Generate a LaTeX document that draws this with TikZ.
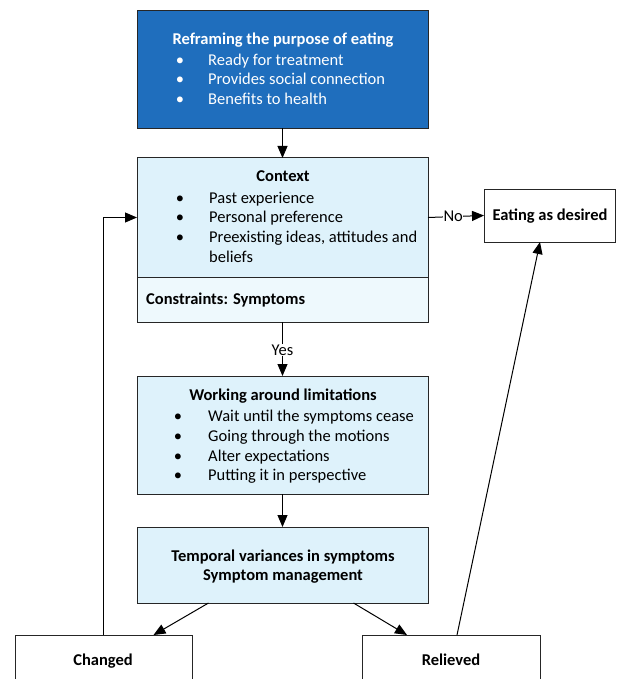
\documentclass[tikz,border=0pt]{standalone}
\usepackage{fontspec}
\setmainfont{Carlito}
\usetikzlibrary{arrows.meta}
\definecolor{darkblue}{RGB}{31,110,189}
\definecolor{lightblue}{RGB}{222,242,251}
\definecolor{paleblue}{RGB}{238,249,253}
\newcommand{\fsz}{\fontsize{16.5}{19}\selectfont}
\begin{document}
\begin{tikzpicture}[x=1pt,y=-1pt,
  box/.style={draw=black!85, line width=1pt, inner sep=0pt, outer sep=0pt},
  txt/.style={inner sep=0pt, anchor=base west, font=\fsz},
  ctxt/.style={inner sep=0pt, anchor=base, font=\fsz\bfseries},
  bul/.style={inner sep=0pt, anchor=base, font=\fsz},
  arr/.style={draw=black, line width=1pt, -{Triangle[length=12pt,width=10pt]}},
  lbl/.style={fill=white, inner sep=1pt, font=\fsz}]
\useasboundingbox (0,0) rectangle (621,679);
\clip (0,0) rectangle (621,679);
% boxes
\node[box, fill=darkblue, minimum width=291pt, minimum height=118pt] (reframe) at (282.5,69.5) {};
\node[box, fill=lightblue, minimum width=291pt, minimum height=119pt] (context) at (282.5,217.5) {};
\node[box, fill=paleblue, minimum width=291pt, minimum height=45pt] (constr) at (282.5,299.5) {};
\node[box, fill=lightblue, minimum width=291pt, minimum height=118pt] (working) at (282.5,435) {};
\node[box, fill=lightblue, minimum width=291pt, minimum height=76pt] (temporal) at (282.5,565) {};
\node[box, fill=white, minimum width=131pt, minimum height=53pt] (eating) at (549.5,215.5) {};
\node[box, fill=white, minimum width=177pt, minimum height=70pt] (changed) at (103.5,670) {};
\node[box, fill=white, minimum width=178pt, minimum height=70pt] (relieved) at (451,670) {};
% reframe text
\begin{scope}[text=white]
\node[ctxt] (t1) at (283,45) {Reframing the purpose of eating};
\node[bul] (b11) at (180,66) {•};
\node[txt] (t11) at (208,66) {Ready for treatment};
\node[bul] (b12) at (180,85) {•};
\node[txt] (t12) at (208,85) {Provides social connection};
\node[bul] (b13) at (180,105) {•};
\node[txt] (t13) at (208,105) {Benefits to health};
\end{scope}
% context text
\node[ctxt] (t2) at (283,182) {Context};
\node[bul] (b21) at (180,203) {•};
\node[txt] (t21) at (209,203) {Past experience};
\node[bul] (b22) at (180,222) {•};
\node[txt] (t22) at (209,222) {Personal preference};
\node[bul] (b23) at (180,242) {•};
\node[txt] (t23) at (209,242) {Preexisting ideas, attitudes and};
\node[txt] (t24) at (209,262) {beliefs};
\node[txt, font=\fsz\bfseries] (t3) at (146,304) {Constraints: Symptoms};
% working text
\node[ctxt] (t4) at (283,400) {Working around limitations};
\node[bul] (b41) at (178,421) {•};
\node[txt] (t41) at (208,421) {Wait until the symptoms cease};
\node[bul] (b42) at (178,441) {•};
\node[txt] (t42) at (208,441) {Going through the motions};
\node[bul] (b43) at (178,461) {•};
\node[txt] (t43) at (208,461) {Alter expectations};
\node[bul] (b44) at (178,480) {•};
\node[txt] (t44) at (208,480) {Putting it in perspective};
% temporal text
\node[ctxt] (t5) at (283,561) {Temporal variances in symptoms};
\node[ctxt] (t6) at (283,580) {Symptom management};
% other texts
\node[ctxt] (t7) at (550,220) {Eating as desired};
\node[ctxt] (t8) at (103,665) {Changed};
\node[ctxt] (t9) at (451,665) {Relieved};
% connectors
\draw[arr] (reframe.south) -- (context.north);
\draw[arr] (constr.south) -- node[lbl, pos=0.52] (yes) {Yes} (working.north);
\draw[arr] (working.south) -- (temporal.north);
\draw[arr] (context.east) -- node[lbl, pos=0.45, inner sep=0.5pt] (no) {No} (eating.west);
\coordinate (tl) at ([xshift=-74pt]temporal.south);
\coordinate (tr) at ([xshift=71pt]temporal.south);
\draw[arr] (tl) -- ([xshift=50pt]changed.north);
\draw[arr] (tr) -- ([xshift=-44pt]relieved.north);
\coordinate (cup) at (changed.north |- context.west);
\draw[arr] (changed.north) -- (cup) -- (context.west);
\draw[arr] ([xshift=6pt]relieved.north) -- ([xshift=-9.5pt]eating.south);
\end{tikzpicture}
\end{document}
